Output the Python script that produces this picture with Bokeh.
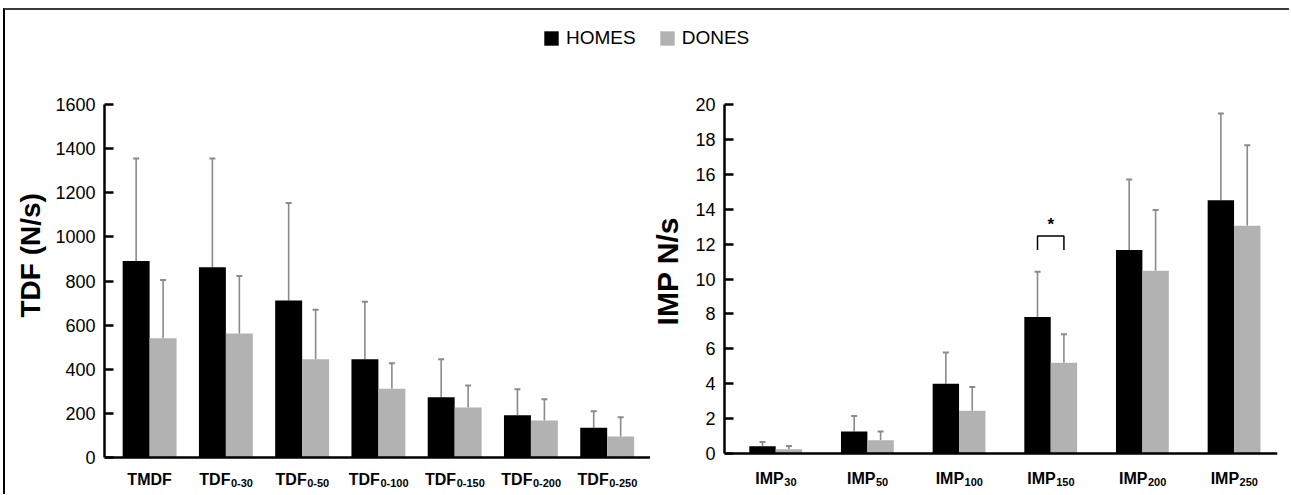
import math
from bokeh.plotting import figure
from bokeh.models import (ColumnDataSource, Range1d, Legend, LegendItem, Whisker, TeeHead,
                          SingleIntervalTicker, Label, Title, Span)
from bokeh.layouts import column, row
from bokeh.core.properties import value
from bokeh.embed import file_html
from bokeh.resources import INLINE

# ---------------- data ----------------
tdf_main = ["TMDF", "TDF", "TDF", "TDF", "TDF", "TDF", "TDF"]
tdf_sub = ["", "0-30", "0-50", "0-100", "0-150", "0-200", "0-250"]
tdf_homes = [891, 862, 712, 445, 273, 191, 135]
tdf_homes_sd = [464, 493, 441, 261, 172, 118, 75]
tdf_dones = [540, 562, 445, 312, 227, 168, 95]
tdf_dones_sd = [265, 261, 225, 115, 99, 96, 88]

imp_main = ["IMP", "IMP", "IMP", "IMP", "IMP", "IMP"]
imp_sub = ["30", "50", "100", "150", "200", "250"]
imp_homes = [0.42, 1.27, 4.0, 7.83, 11.66, 14.51]
imp_homes_sd = [0.24, 0.88, 1.79, 2.59, 4.05, 4.98]
imp_dones = [0.25, 0.76, 2.46, 5.2, 10.47, 13.05]
imp_dones_sd = [0.19, 0.50, 1.35, 1.64, 3.49, 4.62]

sig_index = [3]          # IMP150
sig_low = [11.66]
sig_high = [12.46]

series_names = ["HOMES", "DONES"]
y_titles = ["TDF (N/s)", "IMP N/s"]

HOMES_COLOR = "#000000"
DONES_COLOR = "#b2b2b2"
ERR_COLOR = "#8a8a8a"
FONT = "Liberation Sans"

# helvetica-bold widths (em) for label centring
BW = {"T": .611, "M": .833, "D": .722, "F": .611, "I": .278, "P": .667, "-": .333}
def bw(s, size):
    return sum(BW.get(c, .556) for c in s) * size

MAIN_SIZE = 16
SUB_SIZE = 11
ROW_TOP = 68       # page y of the panels' canvas top
FIG_H = 426
FRAME_BOTTOM = 490  # page y of frame bottom (labels live inside the frame)


def make_panel(main, sub, homes, hsd, dones, dsd, ymax, yint, bar_w,
               x_lo, x_hi, width, mb_left, mb_right, y_top, y_zero,
               ytitle, title_standoff, title_size, title_end, main_px, sub_px):
    n = len(main)
    idx = list(range(n))
    d = bar_w / 2
    pyu = (y_zero - y_top) / ymax                # px per data unit (y)
    y_lo = -(FRAME_BOTTOM - y_zero) / pyu
    frame_w = width - mb_left - mb_right
    pxu = frame_w / (x_hi - x_lo)

    src = ColumnDataSource(dict(
        xh=[i - d for i in idx], xd=[i + d for i in idx],
        homes=homes, dones=dones,
        hup=[h + s for h, s in zip(homes, hsd)],
        dup=[v + s for v, s in zip(dones, dsd)],
    ))
    p = figure(width=width, height=FIG_H, x_range=Range1d(x_lo, x_hi),
               y_range=Range1d(y_lo, ymax), toolbar_location=None, output_backend="svg",
               min_border=0)
    p.min_border_left = mb_left
    p.min_border_right = mb_right
    p.min_border_top = y_top - ROW_TOP
    p.min_border_bottom = ROW_TOP + FIG_H - FRAME_BOTTOM
    p.outline_line_color = None
    p.grid.visible = False
    p.xaxis.visible = False

    p.vbar(x="xh", top="homes", width=bar_w, source=src, fill_color=HOMES_COLOR,
           line_color=None)
    p.vbar(x="xd", top="dones", width=bar_w, source=src, fill_color=DONES_COLOR,
           line_color=None)
    for b, lo, up in (("xh", "homes", "hup"), ("xd", "dones", "dup")):
        w = Whisker(source=src, base=b, lower=lo, upper=up, dimension="height",
                    line_color=ERR_COLOR, line_width=1.6, lower_head=None,
                    upper_head=TeeHead(size=6, line_color=ERR_COLOR, line_width=2))
        p.add_layout(w)

    # baseline (x axis line)
    p.add_layout(Span(location=0, dimension="width", line_color="black", line_width=2.5))

    yax = p.yaxis[0]
    yax.bounds = (0, ymax)
    yax.ticker = SingleIntervalTicker(interval=yint)
    yax.axis_line_width = 2.5
    yax.axis_line_color = "black"
    yax.major_tick_in = 9
    yax.major_tick_out = 0
    yax.major_tick_line_width = 2.5
    yax.minor_tick_line_color = None
    yax.major_label_text_font = FONT
    yax.major_label_text_font_size = "18px"
    yax.major_label_text_color = "black"
    yax.major_label_standoff = 5

    # y title
    if ytitle:
        p.add_layout(Title(text=ytitle, align="left", offset=FRAME_BOTTOM - title_end,
                           standoff=title_standoff, text_font=FONT, text_font_style="bold",
                           text_font_size=f"{title_size}px", text_color="black"), "left")

    # category labels: main text + subscript
    xs = []
    for i, (m, s) in enumerate(zip(main, sub)):
        wm, ws = bw(m, MAIN_SIZE), bw(s, SUB_SIZE)
        xs.append(i + (-(wm + ws) / 2 + wm) / pxu)
    lsrc = ColumnDataSource(dict(x=xs, ym=[-main_px / pyu] * n, ys=[-sub_px / pyu] * n,
                                 main=main, sub=sub))
    p.text(x="x", y="ym", text="main", source=lsrc, text_align="right",
           text_baseline="alphabetic", text_font=value(FONT), text_font_style="bold",
           text_font_size=value(f"{MAIN_SIZE}px"), text_color="black")
    p.text(x="x", y="ys", text="sub", source=lsrc, text_align="left", x_offset=0.5,
           text_baseline="alphabetic", text_font=value(FONT), text_font_style="bold",
           text_font_size=value(f"{SUB_SIZE}px"), text_color="black")
    return p, pyu


LEFT0 = 5          # page x where content starts (3px margin + 2px border)
SPLIT1 = 650       # page x where the middle (title) strip starts
SPLIT2 = 692       # page x where the right panel's canvas starts
RIGHT_END = 1289
F1_L, F2_L, F2_W = 103, 722, 555
PXU1, C1 = 76.4, 148.2     # px per category and first category centre (left)
PXU2, C2 = 92.0, 773.4     # same for right
W1 = SPLIT1 - LEFT0
WM = SPLIT2 - SPLIT1
W2 = RIGHT_END - SPLIT2
x_lo1 = -(C1 - F1_L) / PXU1
x_hi1 = x_lo1 + (SPLIT1 - F1_L) / PXU1
x_lo2 = -(C2 - F2_L) / PXU2
x_hi2 = x_lo2 + F2_W / PXU2

p1, _ = make_panel(tdf_main, tdf_sub, tdf_homes, tdf_homes_sd, tdf_dones, tdf_dones_sd,
                   1600, 200, 27 / PXU1, x_lo1, x_hi1, W1, F1_L - LEFT0, 0, 104, 457,
                   y_titles[0], 14, 28, 317, 21.5, 25.3)
p2, pyu2 = make_panel(imp_main, imp_sub, imp_homes, imp_homes_sd, imp_dones, imp_dones_sd,
                      20, 2, 26.5 / PXU2, x_lo2, x_hi2, W2, F2_L - SPLIT2,
                      W2 - (F2_L - SPLIT2) - F2_W, 103, 453,
                      None, 0, 0, 0, 24.5, 28.7)

# title strip for the right panel's y title (canvas pixels as data units)
pm = figure(width=WM, height=FIG_H, x_range=Range1d(0, WM), y_range=Range1d(0, FIG_H),
            toolbar_location=None, output_backend="svg", min_border=0,
            x_axis_location=None, y_axis_location=None)
pm.outline_line_color = None
pm.grid.visible = False
pm.text(x=[666.5 - SPLIT1], y=[FIG_H - (252 - ROW_TOP)], text=[y_titles[1]], angle=math.pi / 2,
        text_align="center", text_baseline="middle", text_font=value(FONT),
        text_font_style="bold", text_font_size=value("30px"), text_color="black")

# significance bracket
d2 = 26.5 / PXU2 / 2
for i, lo, hi in zip(sig_index, sig_low, sig_high):
    p2.line(x=[i - d2, i - d2, i + d2, i + d2], y=[lo, hi, hi, lo], line_color="black",
            line_width=1.5)
    p2.add_layout(Label(x=i, y=hi, text="*", y_offset=2, text_font=FONT, text_font_style="bold",
                        text_font_size="17px", text_align="center", text_baseline="bottom",
                        text_color="black"))

# legend strip
pt = figure(width=W1 + WM + W2, height=58, x_range=Range1d(0, 1), y_range=Range1d(0, 1),
            toolbar_location=None, output_backend="svg", min_border=0,
            x_axis_location=None, y_axis_location=None)
pt.outline_line_color = None
pt.grid.visible = False
rh = pt.vbar(x=[10], top=[1], width=0.1, fill_color=HOMES_COLOR, line_color=None)
rd = pt.vbar(x=[10], top=[1], width=0.1, fill_color=DONES_COLOR, line_color=None)
leg = Legend(items=[LegendItem(label=series_names[0], renderers=[rh]),
                    LegendItem(label=series_names[1], renderers=[rd])],
             orientation="horizontal", location=(537, 19), glyph_width=18, glyph_height=18,
             label_standoff=6, spacing=22, padding=0, margin=0, border_line_color=None,
             background_fill_alpha=0, label_text_font=FONT, label_text_font_size="19px",
             label_text_color="black", label_height=15)
pt.add_layout(leg, "center")

layout = column(pt, row(p1, pm, p2),
                styles={"margin-left": "3px", "margin-top": "8px",
                        "border-top": "2px solid #3c3c3c", "border-left": "2px solid #000000"})

open("out.html", "w").write(file_html(layout, INLINE))
